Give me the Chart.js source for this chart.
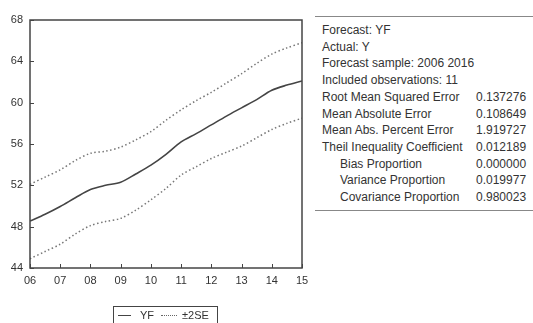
<!DOCTYPE html>
<html>
<head>
<meta charset="utf-8">
<script src="https://cdn.jsdelivr.net/npm/chart.js@4.4.1/dist/chart.umd.min.js"></script>
<style>
  html, body { margin:0; padding:0; background:#fff; }
  body { width:533px; height:323px; position:relative; overflow:hidden; font-family:"Liberation Sans", Arial, sans-serif; color:#333; }
  #wrap { position:absolute; left:0; top:0; width:315px; height:323px; }
  #legend { position:absolute; left:113px; top:306px; width:105px; height:22px; border:1.5px solid #444; box-sizing:border-box; font-size:11px; color:#333; }
  #legend .ln { position:absolute; top:8px; height:0; }
  #legend .t { position:absolute; top:2px; }
  #stats { position:absolute; left:315px; top:16px; width:218px; height:193px; border-top:1.5px solid #888; border-bottom:1.5px solid #888; font-size:12px; color:#333; }
  #stats .r { position:absolute; left:7px; white-space:nowrap; }
  #stats .v { position:absolute; left:161px; white-space:nowrap; }
</style>
</head>
<body>
<div id="wrap"><canvas id="c" width="315" height="323"></canvas></div>
<div id="legend">
  <div class="ln" style="left:4px;width:13px;border-top:1.5px solid #444;"></div>
  <div class="t" style="left:26px;">YF</div>
  <div class="ln" style="left:47px;width:16px;border-top:1.5px dotted #666;"></div>
  <div class="t" style="left:68px;">±2SE</div>
</div>
<div id="stats"></div>
<script>
const xYears = [2006, 2006.5, 2007, 2007.5, 2008, 2008.5, 2009, 2009.5, 2010, 2010.5, 2011, 2011.5, 2012, 2012.5, 2013, 2013.5, 2014, 2014.5, 2015];
const yfValues = [48.55, 49.2, 49.95, 50.8, 51.6, 52.0, 52.3, 53.1, 53.95, 55.0, 56.2, 57.0, 57.85, 58.7, 59.5, 60.3, 61.2, 61.7, 62.1];
const upperValues = [52.1, 52.8, 53.5, 54.4, 55.1, 55.3, 55.7, 56.4, 57.2, 58.3, 59.3, 60.2, 61.0, 61.9, 62.8, 63.8, 64.7, 65.3, 65.8];
const lowerValues = [44.9, 45.6, 46.3, 47.3, 48.1, 48.5, 48.8, 49.6, 50.6, 51.7, 53.0, 53.8, 54.6, 55.2, 55.8, 56.6, 57.4, 58.0, 58.5];
const xTickLabels = ['06','07','08','09','10','11','12','13','14','15'];
const yTicks = [44, 48, 52, 56, 60, 64, 68];

const statLabels = ['Forecast: YF','Actual: Y','Forecast sample: 2006 2016','Included observations: 11','Root Mean Squared Error','Mean Absolute Error','Mean Abs. Percent Error','Theil Inequality Coefficient','Bias Proportion','Variance Proportion','Covariance Proportion'];
const statValues = ['','','','','0.137276','0.108649','1.919727','0.012189','0.000000','0.019977','0.980023'];
const statIndent = [0,0,0,0,0,0,0,0,1,1,1];

const st = document.getElementById('stats');
statLabels.forEach((l, i) => {
  const top = 6 + i * 16.7;
  const d = document.createElement('div'); d.className = 'r';
  d.style.top = top + 'px'; d.style.left = (statIndent[i] ? 25 : 7) + 'px';
  d.textContent = l; st.appendChild(d);
  if (statValues[i]) {
    const v = document.createElement('div'); v.className = 'v';
    v.style.top = top + 'px'; v.textContent = statValues[i]; st.appendChild(v);
  }
});

const pts = arr => arr.map((v, i) => ({x: xYears[i], y: v}));

const frameTicks = {
  id: 'frameTicks',
  afterDraw(chart) {
    const {ctx, chartArea: a, scales: {x, y}} = chart;
    ctx.save();
    ctx.strokeStyle = '#444'; ctx.lineWidth = 1.5;
    ctx.strokeRect(a.left, a.top, a.right - a.left, a.bottom - a.top);
    ctx.lineWidth = 1;
    x.ticks.forEach(t => { const px = Math.round(x.getPixelForValue(t.value)) + 0.5; ctx.beginPath(); ctx.moveTo(px, a.bottom); ctx.lineTo(px, a.bottom - 4); ctx.stroke(); });
    y.ticks.forEach(t => { const py = Math.round(y.getPixelForValue(t.value)) + 0.5; ctx.beginPath(); ctx.moveTo(a.left, py); ctx.lineTo(a.left + 4, py); ctx.stroke(); });
    ctx.restore();
  }
};

new Chart(document.getElementById('c'), {
  type: 'line',
  data: {
    datasets: [
      { label: 'YF', data: pts(yfValues), borderColor: '#444', borderWidth: 1.6, pointRadius: 0, tension: 0.3 },
      { label: '±2SE', data: pts(upperValues), borderColor: '#777', borderWidth: 1.5, borderDash: [1.5, 2.5], pointRadius: 0, tension: 0.3 },
      { label: '-2SE', data: pts(lowerValues), borderColor: '#777', borderWidth: 1.5, borderDash: [1.5, 2.5], pointRadius: 0, tension: 0.3 }
    ]
  },
  options: {
    responsive: false,
    animation: false,
    layout: { padding: { left: 0, right: 13, top: 20, bottom: 35 } },
    plugins: { legend: { display: false }, tooltip: { enabled: false } },
    scales: {
      x: {
        type: 'linear', min: 2006, max: 2015,
        afterBuildTicks: s => { s.ticks = xTickLabels.map((_, i) => ({ value: 2006 + i })); },
        afterFit: s => { s.height = 20; s.paddingRight = 0; s.paddingLeft = 0; },
        grid: { display: false, drawTicks: false },
        border: { display: false },
        ticks: { padding: 6, color: '#333', font: { family: 'Liberation Sans', size: 11 }, maxRotation: 0, autoSkip: false,
                 callback: (v, i) => xTickLabels[i] }
      },
      y: {
        min: 44, max: 68,
        afterBuildTicks: s => { s.ticks = yTicks.map(v => ({ value: v })); },
        afterFit: s => { s.width = 30; s.paddingTop = 0; s.paddingBottom = 0; },
        grid: { display: false, drawTicks: false },
        border: { display: false },
        ticks: { padding: 7, color: '#333', font: { family: 'Liberation Sans', size: 11 } }
      }
    }
  },
  plugins: [frameTicks]
});
</script>
</body>
</html>
